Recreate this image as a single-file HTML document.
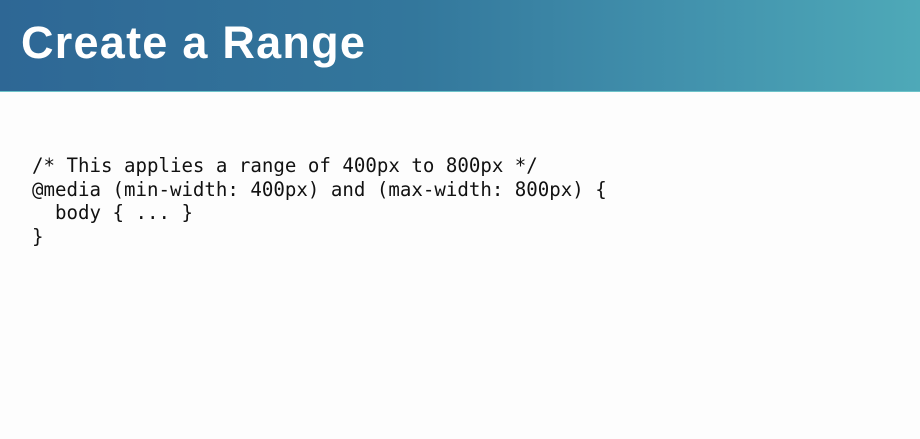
<!DOCTYPE html>
<html><head><meta charset="utf-8">
<style>
html,body{margin:0;padding:0;width:920px;height:439px;overflow:hidden;background:#fdfdfd;}
.hdr{position:absolute;left:0;top:0;width:920px;height:91px;
background:linear-gradient(90deg,#2e6795 0%,#33779c 45%,#4292ad 75%,#4ea9b8 100%);
border-bottom:1.5px solid #6cc3c9;}
.title{position:absolute;left:21px;top:13px;font-family:"Liberation Sans",sans-serif;font-weight:bold;
font-size:45px;color:#fff;letter-spacing:1.25px;line-height:60px;}
pre{position:absolute;left:32px;top:154px;margin:0;font-family:"DejaVu Sans Mono","Liberation Mono",monospace;
font-size:19.1px;line-height:23.6px;color:#111;}
</style></head><body>
<div class="hdr"><div class="title">Create a Range</div></div>
<pre>/* This applies a range of 400px to 800px */
@media (min-width: 400px) and (max-width: 800px) {
  body { ... }
}</pre>
</body></html>
